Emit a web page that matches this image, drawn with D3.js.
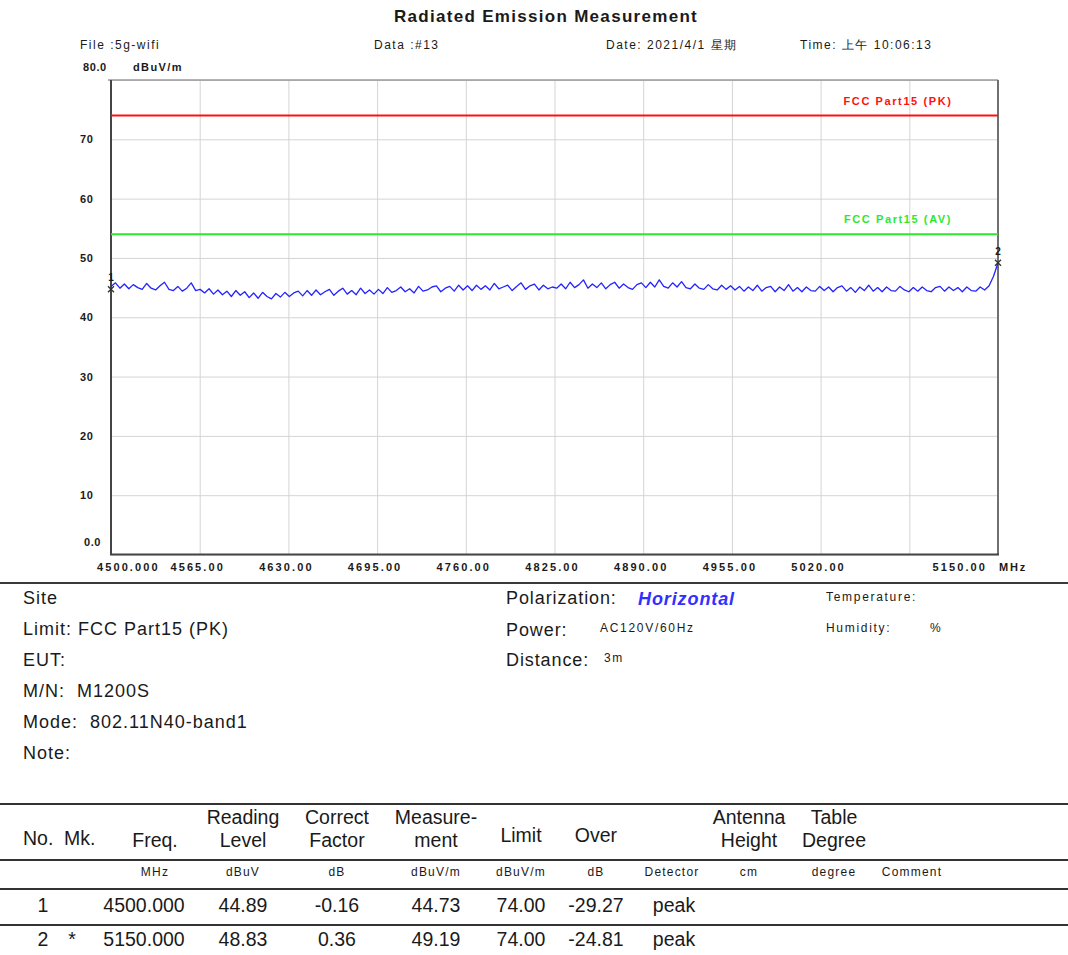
<!DOCTYPE html>
<html>
<head>
<meta charset="utf-8">
<script src="https://cdn.jsdelivr.net/npm/d3@7/dist/d3.min.js"></script>
<style>
body{margin:0;background:#fff}
text{font-family:"Liberation Sans",Arial,sans-serif;fill:#1a1a1a}
</style>
</head>
<body>
<div id="chart"></div>
<script>

// sweep, MHz
var sweepStart=4500, sweepStop=5150;

// trace, dBuV/m
var traceLevel=[
45.2,45.8,44.9,45.6,44.8,45.5,45.0,44.7,45.7,44.9,44.6,45.3,45.9,44.7,44.5,45.2,44.4,44.9,45.8,44.5,
44.7,44.1,44.8,43.9,44.6,43.8,44.4,43.5,44.5,43.7,44.3,43.3,44.1,43.2,44.2,43.5,43.1,44.0,43.4,44.2,
43.5,44.1,44.4,43.6,44.5,43.7,44.6,43.8,44.3,44.7,43.7,44.4,44.9,43.9,44.5,43.8,44.9,44.0,44.6,43.9,
44.7,44.0,45.0,44.2,44.5,45.1,44.3,44.8,44.1,45.2,44.4,44.6,45.1,45.3,44.3,44.9,45.2,44.4,45.4,44.6,
45.3,44.5,45.4,44.7,45.3,44.6,45.7,44.8,45.1,45.4,44.5,45.2,45.8,44.7,45.3,45.6,44.6,45.4,44.8,45.1,
44.9,45.6,44.8,45.9,45.0,45.5,46.3,44.9,45.6,45.0,45.8,44.8,45.5,45.9,44.9,45.6,45.0,44.7,45.5,45.8,
45.0,45.9,45.1,46.3,45.2,44.9,45.8,45.1,46.0,45.0,44.8,45.6,44.9,44.7,45.5,44.8,44.6,45.4,44.7,45.3,
44.6,45.2,44.4,45.1,44.5,45.4,44.4,45.0,45.2,44.3,45.1,44.5,45.5,44.4,45.0,44.3,45.1,44.5,44.4,45.2,
44.5,45.1,44.3,45.0,45.3,44.4,45.0,44.2,45.1,44.5,45.4,44.4,45.0,44.3,45.1,44.5,44.4,45.2,44.6,44.3,
45.0,44.4,45.1,44.5,44.3,45.0,45.2,44.4,45.1,44.5,45.0,44.3,45.1,44.5,44.4,45.1,44.6,45.3,46.9,49.19
];

var yTicks=[0,10,20,30,40,50,60,70,80];
var yTickLabels=["0.0","10","20","30","40","50","60","70","80.0"];
var xTicks=[4500,4565,4630,4695,4760,4825,4890,4955,5020,5085,5150];
var xTickLabels=["4500.000","4565.00","4630.00","4695.00","4760.00","4825.00","4890.00","4955.00","5020.00","","5150.00"];

var limitNames=["FCC Part15 (PK)","FCC Part15 (AV)"];
var limitLevels=[74,54];

// marker table
var markerNo=["1","2"];
var markerMk=["","*"];
var markerFreq=["4500.000","5150.000"];
var readingLevel=["44.89","48.83"];
var correctFactor=["-0.16","0.36"];
var measurement=["44.73","49.19"];
var limitValue=["74.00","74.00"];
var overValue=["-29.27","-24.81"];
var detector=["peak","peak"];

var headLine1=["","","","Reading","Correct","Measure-","","","","Antenna","Table",""];
var headLine2=["","","Freq.","Level","Factor","ment","","","","Height","Degree",""];
var headMid=["","","","","","","Limit","Over","","","",""];
var headUnits=["","","MHz","dBuV","dB","dBuV/m","dBuV/m","dB","Detector","cm","degree","Comment"];

var infoLeft=["Site","Limit: FCC Part15 (PK)","EUT:","M/N:  M1200S","Mode:  802.11N40-band1","Note:"];

var width=1068, height=955;

var svg=d3.select("#chart").append("svg")
	.attr("width",width)
	.attr("height",height);

svg.append("rect").attr("width",width).attr("height",height).attr("fill","#fff");

var x=d3.scaleLinear().domain([sweepStart,sweepStop]).range([111,998]);
var y=d3.scaleLinear().domain([0,80]).range([554.5,80]);

// title + header
svg.append("text")
	.attr("x",546).attr("y",22)
	.attr("text-anchor","middle")
	.style("font-size","17px").style("font-weight","bold").style("letter-spacing","1.3px")
	.text("Radiated Emission Measurement");

var head=[["File :5g-wifi",80],["Data :#13",374],["Date: 2021/4/1 星期",606],["Time: 上午 10:06:13",800]];
svg.selectAll(".hd").data(head).enter().append("text")
	.attr("class","hd")
	.attr("x",function(d){return d[1];})
	.attr("y",49)
	.style("font-size","12px").style("letter-spacing","1.5px")
	.text(function(d){return d[0];});

// grid
var plot=svg.append("g");

plot.append("g")
	.attr("class","grid")
	.attr("transform","translate(0,"+y(0)+")")
	.call(d3.axisBottom(x).tickValues(xTicks).tickSize(-(y(0)-y(80))).tickFormat(""));

plot.append("g")
	.attr("class","grid")
	.attr("transform","translate("+x(sweepStart)+",0)")
	.call(d3.axisLeft(y).tickValues(yTicks).tickSize(-(x(sweepStop)-x(sweepStart))).tickFormat(""));

plot.selectAll(".grid .domain").remove();
plot.selectAll(".grid line").attr("stroke","#d4d4d4").attr("stroke-width",1);

// frame
plot.append("line").attr("x1",108).attr("x2",x(sweepStop)).attr("y1",y(80)).attr("y2",y(80)).attr("stroke","#9a9a9a").attr("stroke-width",1.5);
plot.append("line").attr("x1",x(sweepStop)).attr("x2",x(sweepStop)).attr("y1",y(80)).attr("y2",y(0)).attr("stroke","#707070").attr("stroke-width",2);
plot.append("line").attr("x1",x(sweepStart)).attr("x2",x(sweepStart)).attr("y1",y(80)).attr("y2",y(0)).attr("stroke","#454545").attr("stroke-width",2);
plot.append("line").attr("x1",x(sweepStart)-1).attr("x2",x(sweepStop)+1).attr("y1",y(0)).attr("y2",y(0)).attr("stroke","#454545").attr("stroke-width",2);

// y labels
svg.selectAll(".yl").data(yTicks).enter().append("text")
	.attr("class","yl")
	.attr("x",function(d){return d==0?84:(d==80?83:80);})
	.attr("y",function(d){return d==0||d==80?y(d)-9:y(d)+4;})
	.style("font-size","11px").style("font-weight","bold").style("letter-spacing","0.6px")
	.text(function(d,i){return yTickLabels[i];});

svg.append("text").attr("x",133).attr("y",71)
	.style("font-size","11px").style("font-weight","bold").style("letter-spacing","1.4px")
	.text("dBuV/m");

// x labels
svg.selectAll(".xl").data(xTicks).enter().append("text")
	.attr("class","xl")
	.attr("x",function(d,i){ if(i==0) return x(d)-14; if(i==xTicks.length-1) return x(d)-11; return x(d)-2; })
	.attr("y",571)
	.attr("text-anchor",function(d,i){ if(i==0) return "start"; if(i==xTicks.length-1) return "end"; return "middle"; })
	.style("font-size","11px").style("font-weight","bold").style("letter-spacing","2.1px")
	.text(function(d,i){return xTickLabels[i];});

svg.append("text").attr("x",999).attr("y",571)
	.style("font-size","11px").style("font-weight","bold").style("letter-spacing","1.8px")
	.text("MHz");

// limit lines
var limitColor=["#ff1010","#2ee82e"];
plot.selectAll(".lim").data(limitLevels).enter().append("line")
	.attr("class","lim")
	.attr("x1",x(sweepStart)).attr("x2",x(sweepStop))
	.attr("y1",function(d){return y(d);}).attr("y2",function(d){return y(d);})
	.attr("stroke",function(d,i){return limitColor[i];})
	.attr("stroke-width",2);

plot.selectAll(".limt").data(limitLevels).enter().append("text")
	.attr("class","limt")
	.attr("x",898).attr("y",function(d){return y(d)-11;})
	.attr("text-anchor","middle")
	.style("font-size","11px").style("font-weight","bold").style("letter-spacing","1.6px")
	.style("fill",function(d,i){return limitColor[i];})
	.text(function(d,i){return limitNames[i];});

// trace
var step=(sweepStop-sweepStart)/(traceLevel.length-1);
var line=d3.line()
	.x(function(d,i){return x(sweepStart+i*step);})
	.y(function(d){return y(d);});

plot.append("path")
	.datum(traceLevel)
	.attr("fill","none")
	.attr("stroke","#2323ff")
	.attr("stroke-width",1.3)
	.attr("stroke-linejoin","round")
	.attr("d",line);

// markers
var mk=plot.selectAll(".mk").data(markerFreq).enter().append("g")
	.attr("class","mk")
	.attr("transform",function(d,i){return "translate("+x(+d)+","+y(+measurement[i])+")";});
mk.append("path")
	.attr("d","M-3,-3L3,3M-3,3L3,-3")
	.attr("stroke","#333").attr("stroke-width",1.3);
mk.append("text")
	.attr("y",-8).attr("text-anchor","middle")
	.style("font-size","10px").style("font-weight","bold")
	.text(function(d,i){return markerNo[i];});

// separator
svg.append("line").attr("x1",0).attr("x2",width).attr("y1",583).attr("y2",583).attr("stroke","#3a3a3a").attr("stroke-width",2.2);

// info block
svg.selectAll(".inf").data(infoLeft).enter().append("text")
	.attr("class","inf")
	.attr("x",23).attr("y",function(d,i){return 604+i*30.9;})
	.style("font-size","18px").style("letter-spacing","1px")
	.style("white-space","pre")
	.attr("xml:space","preserve")
	.text(function(d){return d;});

var bigR=[["Polarization:",506,604],["Power:",506,636],["Distance:",506,666]];
svg.selectAll(".infr").data(bigR).enter().append("text")
	.attr("class","infr")
	.attr("x",function(d){return d[1];}).attr("y",function(d){return d[2];})
	.style("font-size","18px").style("letter-spacing","0.9px")
	.text(function(d){return d[0];});

svg.append("text").attr("x",638).attr("y",605)
	.style("font-size","18px").style("font-weight","bold").style("font-style","italic").style("letter-spacing","0.9px")
	.style("fill","#3030ff")
	.text("Horizontal");

var smallR=[["Temperature:",826,601],["AC120V/60Hz",600,632],["Humidity:",826,632],["%",930,632],["3m",604,662]];
svg.selectAll(".infs").data(smallR).enter().append("text")
	.attr("class","infs")
	.attr("x",function(d){return d[1];}).attr("y",function(d){return d[2];})
	.style("font-size","12px").style("letter-spacing","1.7px")
	.text(function(d){return d[0];});

// table
var colX=[39,80,155,243,337,436,521,596,672,749,834,912];
var tLines=[804,860,889,925];
svg.selectAll(".tl").data(tLines).enter().append("line")
	.attr("class","tl")
	.attr("x1",0).attr("x2",width)
	.attr("y1",function(d){return d;}).attr("y2",function(d){return d;})
	.attr("stroke","#333").attr("stroke-width",2);

function colText(arr,yy,size,cls){
	svg.selectAll("."+cls).data(arr).enter().append("text")
		.attr("class",cls)
		.attr("x",function(d,i){return colX[i];})
		.attr("y",yy)
		.attr("text-anchor","middle")
		.style("font-size",size)
		.text(function(d){return d;});
}

colText(headLine1,824,"19.5px","h1");
colText(headLine2,847,"19.5px","h2");
colText(headMid,842,"19.5px","h3");
colText(headUnits,876,"12px","h4");
svg.selectAll(".h4").style("letter-spacing","1.2px");

svg.append("text").attr("x",23).attr("y",845).style("font-size","19.5px").text("No.");
svg.append("text").attr("x",64).attr("y",845).style("font-size","19.5px").text("Mk.");

var rowY=[912,946];
var rows=svg.selectAll(".row").data(markerNo).enter().append("g").attr("class","row");
rows.each(function(d,i){
	var g=d3.select(this);
	var cells=[markerNo[i],markerMk[i],markerFreq[i],readingLevel[i],correctFactor[i],measurement[i],limitValue[i],overValue[i],detector[i]];
	var cx=[43,72,144,243,337,436,521,596,674];
	g.selectAll("text").data(cells).enter().append("text")
		.attr("x",function(c,j){return cx[j];})
		.attr("y",rowY[i])
		.attr("text-anchor","middle")
		.style("font-size","19.5px")
		.text(function(c){return c;});
});

</script>
</body>
</html>
